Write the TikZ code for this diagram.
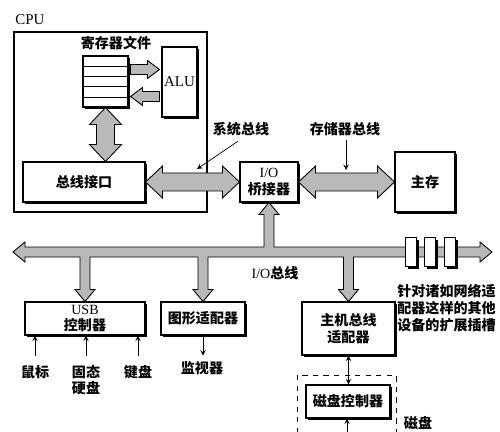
\documentclass[tikz,border=0pt]{standalone}
\usepackage{fontspec}
\setmainfont{Liberation Serif}
\newfontfamily\cjk{Noto Sans CJK SC}
\usetikzlibrary{calc,shadows}

\newcommand\headw{16}
\newcommand\shaftw{9}
\newcommand\headl{17}
\newcommand\hdbl[2]{\filldraw[bus] (#1) -- ++(\headl,-\headw) -- ++(0,\headw-\shaftw) -- ($(#2)+(-\headl,-\shaftw)$) -- ++(0,\shaftw-\headw) -- (#2) -- ++(-\headl,\headw) -- ++(0,\shaftw-\headw) -- ($(#1)+(\headl,\shaftw)$) -- ++(0,\headw-\shaftw) -- cycle;}
\newcommand\vdbl[2]{\filldraw[bus] (#1) -- ++(\headw,\headl) -- ++(\shaftw-\headw,0) -- ($(#2)+(\shaftw,-\headl)$) -- ++(\headw-\shaftw,0) -- (#2) -- ++(-\headw,-\headl) -- ++(\headw-\shaftw,0) -- ($(#1)+(-\shaftw,\headl)$) -- ++(\shaftw-\headw,0) -- cycle;}
\newcommand\harr[2]{\filldraw[bus] ($(#1)+(0,-\shaftw)$) -- ($(#2)+({-1*(\headl)},-\shaftw)$) -- ++(0,\shaftw-\headw) -- (#2) -- ++({-1*(\headl)},\headw) -- ++(0,\shaftw-\headw) -- ($(#1)+(0,\shaftw)$) -- cycle;}

\begin{document}
\begin{tikzpicture}[x=0.02cm,y=-0.02cm,
  every node/.style={font=\fontsize{8}{9.5}\selectfont\cjk\bfseries, inner sep=0pt},
  box/.style={draw, line width=0.6pt, fill=white, drop shadow={shadow xshift=1.4pt, shadow yshift=-1.4pt, opacity=1, fill=black}},
  bus/.style={draw, line width=0.5pt, fill=gray!55},
  latin/.style={font=\fontsize{8.5}{10}\selectfont\rmfamily}]
\useasboundingbox (0,0) rectangle (500,432);
%cpu
\node[draw, line width=0.8pt, minimum width=3.86cm, minimum height=3.6cm] (cpu) at (110.5,122) {};
\node[latin] (cpulbl) at (30,20) {CPU};
\node (reglbl) at (116,43) {寄存器文件};
\node[box, minimum width=0.9cm, minimum height=1.02cm] (reg) at (105.5,81.5) {};
\foreach \i in {1,...,4}
  \draw ($(reg.north west)!\i/5!(reg.south west)$) -- ($(reg.north east)!\i/5!(reg.south east)$);
\node[box, latin, minimum width=0.7cm, minimum height=1.4cm] (alu) at (179.5,82) {ALU};
\node[box, minimum width=2.44cm, minimum height=0.8cm] (busif) at (84,182) {总线接口};
%bridge, memory
\node[box, align=center, minimum width=1.16cm, minimum height=0.8cm] (bridge) at (269,182) {{\rmfamily\mdseries I/O}\\桥接器};
\node[box, minimum width=1.2cm, minimum height=1.2cm] (mem) at (425,182) {主存};
\node (sysbus) at (241,129) {系统总线};
\node (membus) at (345,129) {存储器总线};
\coordinate (sysptr) at (197,169);
\coordinate (memptr) at (346,170);
\draw[-stealth] (sysbus.south) ++(-3,5) -- (sysptr);
\draw[-stealth] (membus.south) ++(1,4) -- (memptr);
%devices
\node[box, align=center, minimum width=2.4cm, minimum height=0.66cm] (usb) at (85,318.5) {{\rmfamily\mdseries USB}\\控制器};
\node[box, minimum width=1.68cm, minimum height=0.66cm] (gfx) at (203,318.5) {图形适配器};
\node[box, align=center, minimum width=1.86cm, minimum height=1.06cm] (hba) at (348.5,328.5) {主机总线\\适配器};
\node (mouse) at (35,372) {鼠标};
\node[align=center] (ssd) at (86,380) {固态\\硬盘};
\node (kbd) at (138,372) {键盘};
\node (monitor) at (202,368) {监视器};
\draw[-stealth, shorten <=5pt] (mouse.north) -- (mouse.north |- usb.south);
\draw[-stealth, shorten <=5pt] (ssd.north) -- (ssd.north |- usb.south);
\draw[-stealth, shorten <=5pt] (kbd.north) -- (kbd.north |- usb.south);
\draw[-stealth, shorten >=3pt] (gfx.south) -- (gfx.south |- monitor.north);
\node[anchor=west, align=center] (slotlbl) at (397,308) {针对诸如网络适\\配器这样的其他\\设备的扩展插槽};
\node (iolbl) at (275,273) {{\rmfamily\mdseries I/O}总线};
%disk
\draw[dashed] (297,375) rectangle (396,450);
\node[box, minimum width=1.68cm, minimum height=0.66cm] (diskctl) at (348,401.5) {磁盘控制器};
\node (disklbl) at (418,423) {磁盘};
\coordinate (diskin) at (347,445);
\draw[stealth-stealth] (hba.south) -- (hba.south |- diskctl.north);
\draw[-stealth] (diskin) -- (diskin |- diskctl.south);
%buses
\hdbl{busif.east}{bridge.west}
\hdbl{bridge.east}{mem.west}
\coordinate (busiftop) at (reg.south |- busif.north);
\vdbl{reg.south}{busiftop}
\begin{scope}
\renewcommand\headw{9}\renewcommand\shaftw{5}\renewcommand\headl{12}
\coordinate (toalu) at ($(reg.east)+(2,-12)$);
\coordinate (aluin) at ($(reg.east -| alu.west)+(-2,-12)$);
\coordinate (fromalu) at ($(reg.east -| alu.west)+(-2,15)$);
\coordinate (regin) at ($(reg.east)+(2,15)$);
\harr{toalu}{aluin}
\renewcommand\headl{-12}
\harr{fromalu}{regin}
\end{scope}
\coordinate (busl) at (13,252);
\coordinate (busr) at (492,252);
\filldraw[bus] (busl) -- ++(12,-10) -- ++(0,5)
  -- ($(bridge.south |- busl)+(-5,-5)$) -- ($(bridge.south)+(-5,12)$) -- ++(-5,0) -- (bridge.south) -- ++(10,12) -- ++(-5,0) -- ($(bridge.south |- busl)+(5,-5)$)
  -- ($(busr)+(-12,-5)$) -- ++(0,-5) -- (busr) -- ++(-12,10) -- ++(0,-5)
  -- ($(hba.north |- busl)+(5,5)$) -- ($(hba.north)+(5,-12)$) -- ++(5,0) -- (hba.north) -- ++(-10,-12) -- ++(5,0) -- ($(hba.north |- busl)+(-5,5)$)
  -- ($(gfx.north |- busl)+(5,5)$) -- ($(gfx.north)+(5,-12)$) -- ++(5,0) -- (gfx.north) -- ++(-10,-12) -- ++(5,0) -- ($(gfx.north |- busl)+(-5,5)$)
  -- ($(usb.north |- busl)+(5,5)$) -- ($(usb.north)+(5,-12)$) -- ++(5,0) -- (usb.north) -- ++(-10,-12) -- ++(5,0) -- ($(usb.north |- busl)+(-5,5)$)
  -- ($(busl)+(12,5)$) -- ++(0,5) -- cycle;
\foreach \x/\n in {411/1,430/2,450/3}
  \node[box, minimum width=0.22cm, minimum height=0.58cm] (slot\n) at (\x,252) {};
\end{tikzpicture}
\end{document}
